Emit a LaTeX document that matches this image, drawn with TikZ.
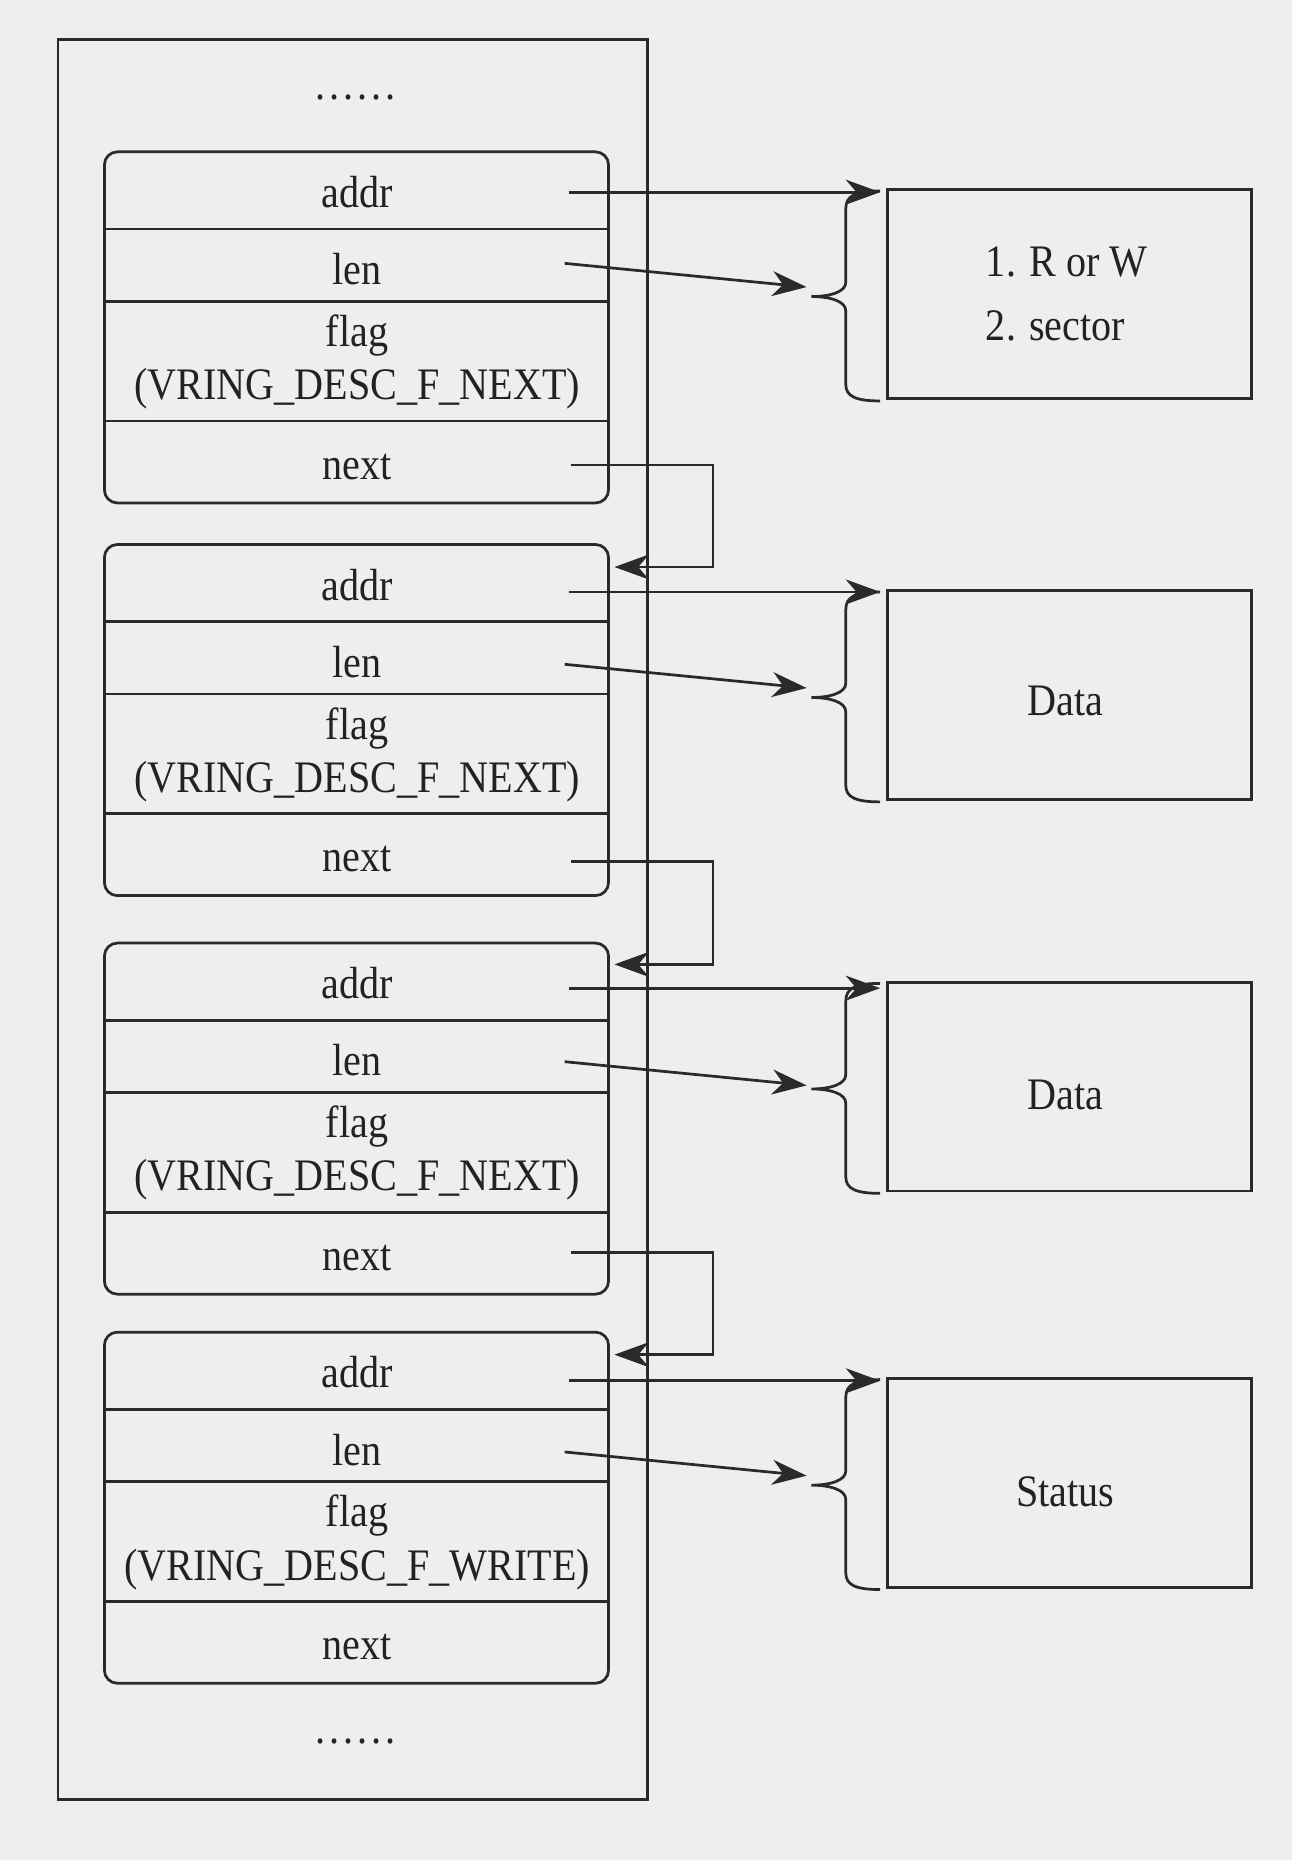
\documentclass[tikz,border=0pt]{standalone}
\usepackage{fontspec}
\setmainfont{Liberation Serif}[FakeStretch=0.89]
\usetikzlibrary{arrows.meta}
\definecolor{bg}{HTML}{EEEEEE}
\definecolor{ln}{HTML}{2A2A2A}
\definecolor{txt}{HTML}{222222}
\newcommand{\dotrow}{.\hspace{3.3pt}.\hspace{3.3pt}.\hspace{3.3pt}.\hspace{3.3pt}.\hspace{3.3pt}.}
\begin{document}
\begin{tikzpicture}[x=1pt,y=-1pt,line width=2.3pt,
  every node/.style={text=txt,font=\fontsize{38}{45}\selectfont},
  ringbox/.style={draw=ln,minimum width=497pt,minimum height=1484pt,inner sep=0pt},
  desc/.style={draw=ln,rounded corners=11pt,minimum width=425pt,minimum height=296pt,inner sep=0pt},
  rbox/.style={draw=ln,minimum width=307pt,minimum height=176pt,inner sep=0pt},
  arr/.style={draw=ln,-{Stealth[length=29pt,width=21pt,inset=9pt]}},
  lbl/.style={anchor=base,inner sep=0pt},
  lblw/.style={anchor=base west,inner sep=0pt},
  divider/.style={draw=ln},
  bracepath/.style={draw=ln}]
\fill[bg] (0,0) rectangle (1089,1568);
\useasboundingbox (0,0) rectangle (1089,1568);

\node[ringbox] (ring) at (297.5,775) {};
\node[lbl] (dotsTop) at (300,84) {\dotrow};
\node[lbl] (dotsBot) at (300,1470) {\dotrow};

% descriptors
\foreach \i/\t/\fl in {1/128/NEXT,2/459/NEXT,3/795/NEXT,4/1123/WRITE}{
  \node[desc] (d\i) at (300.5,{\t+148}) {};
  \draw[divider] (88,{\t+65}) -- (513,{\t+65});
  \draw[divider] (88,{\t+126}) -- (513,{\t+126});
  \draw[divider] (88,{\t+227}) -- (513,{\t+227});
  \node[lbl] (d\i-addr) at (301,{\t+47}) {addr};
  \node[lbl] (d\i-len) at (301,{\t+112}) {len};
  \node[lbl] (d\i-flag) at (301,{\t+164}) {flag};
  \node[lbl] (d\i-fv) at (301,{\t+209}) {(VRING\_DESC\_F\_\fl)};
  \node[lbl] (d\i-next) at (301,{\t+276}) {next};
}

% right boxes, braces, addr and len arrows
\foreach \i/\T/\A/\L in {1/160/162/222,2/498/499/560,3/828/833/895,4/1162/1164/1224}{
  \node[rbox] (b\i) at (901.5,{\T+88}) {};
  \coordinate (a\i s) at (480,\A);
  \coordinate (a\i e) at (742,\A);
  \coordinate (l\i s) at (476,\L);
  \coordinate (l\i e) at (680,{\L+20});
  \draw[bracepath] (742,{\T+1}) .. controls (721,{\T+1}) and (713,{\T+5}) .. (713,{\T+16})
     -- (713,{\T+78}) .. controls (713,{\T+86}) and (700,{\T+90}) .. (684,{\T+90})
     .. controls (700,{\T+90}) and (713,{\T+94}) .. (713,{\T+102})
     -- (713,{\T+164}) .. controls (713,{\T+174}) and (721,{\T+178}) .. (742,{\T+178});
  \draw[arr] (a\i s) -- (a\i e);
  \draw[arr] (l\i s) -- (l\i e);
}

\node[lblw] (t1a) at (830,233) {1. R or W};
\node[lblw] (t1b) at (830,287) {2. sector};
\node[lbl] (t2) at (898,603) {Data};
\node[lbl] (t3) at (898,935) {Data};
\node[lbl] (t4) at (898,1270) {Status};

% next links
\foreach \i/\j/\ys/\ye in {1/2/392/478,2/3/726/813,3/4/1056/1142}{
  \coordinate (n\i s) at (481,\ys);
  \coordinate (n\j in) at (518,\ye);
  \draw[arr] (n\i s) -- ++(120,0) |- (n\j in);
}
\end{tikzpicture}
\end{document}
